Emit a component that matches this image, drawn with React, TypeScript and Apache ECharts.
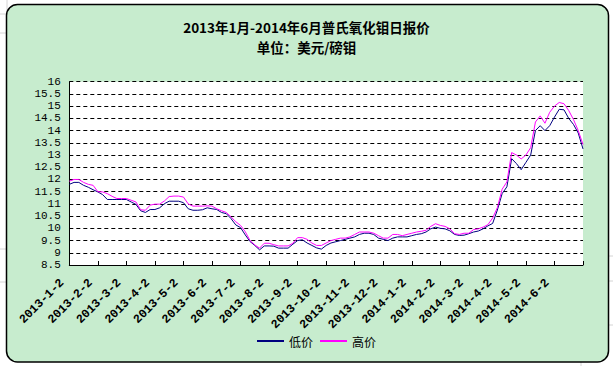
import React, { useEffect, useRef } from "react";
import * as echarts from "echarts";

const months = [
  "2013-1-2", "2013-2-2", "2013-3-2", "2013-4-2", "2013-5-2", "2013-6-2",
  "2013-7-2", "2013-8-2", "2013-9-2", "2013-10-2", "2013-11-2", "2013-12-2",
  "2014-1-2", "2014-2-2", "2014-3-2", "2014-4-2", "2014-5-2", "2014-6-2",
];
const STEPS = 6;
const categories: string[] = months
  .flatMap((m) => Array.from({ length: STEPS }, (_, j) => (j === 0 ? m : `${m}+${j}`)))
  .concat(["end"]);

const lowPrice = [
  11.8, 11.88, 11.88, 11.76, 11.68, 11.58, 11.49, 11.38, 11.18, 11.18,
  11.18, 11.18, 11.18, 11.08, 10.98, 10.72, 10.65, 10.77, 10.77, 10.84,
  11.01, 11.11, 11.11, 11.11, 11.05, 10.8, 10.74, 10.74, 10.76, 10.84,
  10.8, 10.77, 10.65, 10.6, 10.4, 10.14, 10.03, 9.73, 9.46, 9.3,
  9.12, 9.28, 9.28, 9.27, 9.19, 9.19, 9.19, 9.35, 9.5, 9.53,
  9.4, 9.3, 9.2, 9.15, 9.3, 9.4, 9.45, 9.5, 9.55, 9.6,
  9.65, 9.75, 9.8, 9.8, 9.75, 9.6, 9.55, 9.5, 9.6, 9.65,
  9.65, 9.65, 9.7, 9.75, 9.78, 9.85, 9.98, 10.05, 10.0, 9.98,
  9.9, 9.75, 9.71, 9.72, 9.78, 9.85, 9.89, 9.98, 10.1, 10.2,
  10.75, 11.42, 11.7, 12.85, 12.65, 12.4, 12.7, 13.0, 14.0, 14.2,
  14.0, 14.2, 14.55, 14.87, 14.85, 14.5, 14.25, 13.9, 13.25,
];
const highPrice = [
  11.93, 12.0, 12.0, 11.88, 11.8, 11.76, 11.5, 11.49, 11.42, 11.31,
  11.22, 11.22, 11.22, 11.15, 11.08, 10.76, 10.74, 10.95, 10.99, 10.99,
  11.12, 11.3, 11.32, 11.32, 11.28, 11.0, 10.91, 10.91, 10.91, 10.92,
  10.91, 10.8, 10.72, 10.65, 10.47, 10.27, 10.12, 9.86, 9.5, 9.32,
  9.19, 9.39, 9.39, 9.33, 9.28, 9.28, 9.28, 9.39, 9.62, 9.62,
  9.55, 9.4, 9.3, 9.3, 9.4, 9.5, 9.55, 9.6, 9.6, 9.65,
  9.75, 9.85, 9.85, 9.85, 9.8, 9.7, 9.6, 9.6, 9.75, 9.75,
  9.7, 9.75, 9.8, 9.85, 9.88, 9.92, 10.08, 10.19, 10.12, 10.08,
  9.98, 9.78, 9.75, 9.8, 9.8, 9.95, 9.98, 10.05, 10.15, 10.42,
  10.85, 11.6, 11.9, 13.1, 13.0, 12.84, 13.0, 13.3, 14.35, 14.6,
  14.3, 14.75, 15.0, 15.15, 15.1, 14.82, 14.45, 14.0, 13.43,
];

const titleLine1 = "2013年1月-2014年6月普氏氧化钼日报价";
const titleLine2 = "单位：美元/磅钼";
const seriesNames = ["低价", "高价"];

const MONO = "'Liberation Mono', 'DejaVu Sans Mono', monospace";
const CJK = "'Noto Sans CJK SC', 'Noto Sans', sans-serif";

export default function App() {
  const ref = useRef<HTMLDivElement>(null);
  useEffect(() => {
    if (!ref.current) return;
    const chart = echarts.init(ref.current, undefined, { renderer: "svg" });
    const grey = "#d4d4d4";
    const cellLines = [
      [0, 14, 6, 14], [0, 33, 6, 33], [0, 249, 6, 249], [0, 282, 6, 282],
      [609, 256, 613, 256], [609, 281, 613, 281], [609, 325, 613, 325],
      [581, 362, 581, 366], [7, 0, 7, 14],
    ];
    const titleStyle = {
      fontFamily: CJK,
      fontSize: 13.5,
      lineHeight: 13.5,
      fontWeight: "bold",
      color: "#000",
    };
    chart.setOption({
      animation: false,
      backgroundColor: "#ffffff",
      graphic: {
        elements: [
          ...cellLines.map((l) => ({
            type: "line",
            z: -20,
            shape: { x1: l[0], y1: l[1], x2: l[2], y2: l[3] },
            style: { stroke: grey, lineWidth: 1 },
          })),
          {
            type: "rect",
            z: -10,
            shape: { x: 6.5, y: 4.5, width: 602, height: 357.5, r: 11 },
            style: { fill: "#C7ECCE", stroke: "#000", lineWidth: 1.5 },
          },
        ],
      },
      title: [
        { text: titleLine1, left: "center", top: 20.5, padding: 0, textStyle: titleStyle },
        { text: titleLine2, left: "center", top: 40, padding: 0, textStyle: titleStyle },
      ],
      legend: {
        data: seriesNames,
        left: 252,
        top: 330,
        icon: "rect",
        itemWidth: 27,
        itemHeight: 2,
        itemGap: 7,
        textStyle: { fontFamily: CJK, fontSize: 12, color: "#000" },
      },
      grid: {
        left: 69.3,
        right: 30,
        top: 81.7,
        bottom: 101,
        show: true,
        backgroundColor: "#ffffff",
        borderWidth: 0,
        containLabel: false,
      },
      xAxis: {
        type: "category",
        data: categories,
        boundaryGap: false,
        axisLine: { lineStyle: { color: "#000", width: 1 } },
        axisTick: { inside: true, length: 4, interval: STEPS - 1, lineStyle: { color: "#000" } },
        axisLabel: {
          interval: STEPS - 1,
          rotate: 45,
          margin: 9,
          padding: [0, 10, 0, 0],
          fontFamily: MONO,
          fontSize: 12,
          fontWeight: "bold",
          color: "#000",
          formatter: (v: string) => (v.includes("+") || v === "end" ? "" : v),
        },
        splitLine: { show: false },
      },
      yAxis: {
        type: "value",
        min: 8.5,
        max: 16,
        interval: 0.5,
        axisLine: { show: true, lineStyle: { color: "#000", width: 1 } },
        axisTick: { show: false },
        axisLabel: {
          margin: 8.5,
          fontFamily: MONO,
          fontSize: 11,
          color: "#000",
          formatter: (v: number) => String(v),
        },
        splitLine: { show: true, lineStyle: { color: "#000", type: [4, 3], width: 1 } },
      },
      series: [
        {
          name: seriesNames[0],
          type: "line",
          data: lowPrice,
          showSymbol: false,
          symbol: "none",
          lineStyle: { color: "#000080", width: 1 },
          itemStyle: { color: "#000080" },
        },
        {
          name: seriesNames[1],
          type: "line",
          data: highPrice,
          showSymbol: false,
          symbol: "none",
          lineStyle: { color: "#FF00FF", width: 1 },
          itemStyle: { color: "#FF00FF" },
        },
      ],
    });
    return () => chart.dispose();
  }, []);
  return (
    <div
      ref={ref}
      style={{ position: "fixed", left: 0, top: 0, width: 613, height: 366 }}
    />
  );
}
